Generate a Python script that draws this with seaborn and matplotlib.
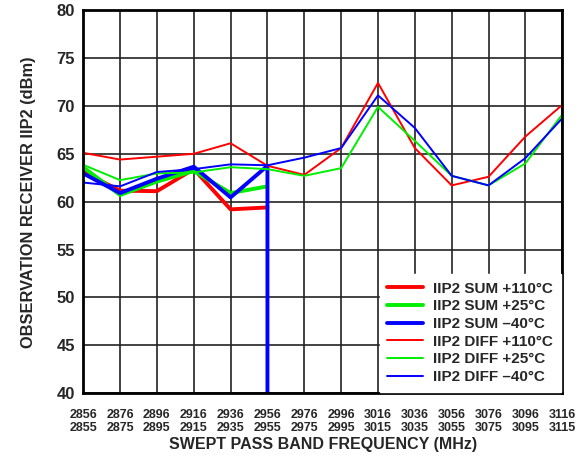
import matplotlib
matplotlib.use("Agg")
import matplotlib.pyplot as plt
import seaborn as sns

# swept pass band frequencies (upper / lower tick rows)
freq_hi = [2856, 2876, 2896, 2916, 2936, 2956, 2976, 2996, 3016, 3036, 3056, 3076, 3096, 3116]
freq_lo = [2855, 2875, 2895, 2915, 2935, 2955, 2975, 2995, 3015, 3035, 3055, 3075, 3095, 3115]

# IIP2 SUM (measured only up to 2956 MHz)
sum_110 = [63.1, 61.15, 61.1, 63.4, 59.2, 59.4]
sum_25 = [63.6, 60.7, 62.1, 63.2, 60.9, 61.6]
sum_m40 = [62.95, 60.9, 62.4, 63.65, 60.45, 63.75, 38.0]
sum_m40_freq = freq_hi[:6] + [2956]

# IIP2 DIFF
diff_110 = [65.1, 64.4, 64.7, 65.0, 66.1, 63.75, 62.8, 65.6, 72.4, 65.6, 61.7, 62.6, 66.8, 70.1]
diff_25 = [63.85, 62.25, 62.95, 63.05, 63.6, 63.4, 62.7, 63.5, 69.9, 66.35, 62.7, 61.7, 64.0, 69.1]
diff_m40 = [62.0, 61.6, 63.1, 63.4, 63.9, 63.8, 64.6, 65.6, 71.1, 67.7, 62.7, 61.7, 64.55, 68.7]

RED, GREEN, BLUE = "#ff0000", "#00ee00", "#0000ff"

sns.set_style("white")
plt.rcParams['font.family'] = ['Liberation Sans', 'DejaVu Sans']
plt.rcParams['font.weight'] = 'bold'

fig, ax = plt.subplots(figsize=(5.82, 4.61), dpi=100)
fig.subplots_adjust(left=0.143, right=0.966, top=0.978, bottom=0.147)

thick, thin = 2.8, 1.4
sns.lineplot(x=freq_hi[:6], y=sum_110, color=RED, lw=thick, ax=ax, label="IIP2 SUM +110°C")
sns.lineplot(x=freq_hi[:6], y=sum_25, color=GREEN, lw=thick, ax=ax, label="IIP2 SUM +25°C")
sns.lineplot(x=sum_m40_freq, y=sum_m40, color=BLUE, lw=thick, ax=ax, sort=False,
             estimator=None, label="IIP2 SUM \u201340°C")
sns.lineplot(x=freq_hi, y=diff_110, color=RED, lw=thin, ax=ax, label="IIP2 DIFF +110°C")
sns.lineplot(x=freq_hi, y=diff_25, color=GREEN, lw=thin, ax=ax, label="IIP2 DIFF +25°C")
sns.lineplot(x=freq_hi, y=diff_m40, color=BLUE, lw=thin, ax=ax, label="IIP2 DIFF \u201340°C")

ax.set_xlim(freq_hi[0], freq_hi[-1])
ax.set_ylim(40, 80)
ax.set_xticks(freq_hi)
ax.set_xticklabels([f"{a}\n{b}" for a, b in zip(freq_hi, freq_lo)], fontsize=9, fontweight='bold')
ax.set_yticks(range(40, 81, 5))
ax.set_yticklabels([str(v) for v in range(40, 81, 5)], fontsize=12, fontweight='bold')
ax.tick_params(axis='both', direction='in', length=4, width=1, color='black')
ax.tick_params(axis='y', pad=6)
ax.tick_params(axis='x', pad=11)

ax.grid(True, color='#222222', lw=1.2)
for s in ax.spines.values():
    s.set_color('black')
    s.set_linewidth(2)

ax.set_xlabel("SWEPT PASS BAND FREQUENCY (MHz)", fontsize=11.5, fontweight='bold', labelpad=2)
ax.set_ylabel("OBSERVATION RECEIVER IIP2 (dBm)", fontsize=11.8, fontweight='bold', labelpad=15)

leg = ax.legend(loc='lower right', fontsize=11, frameon=True, fancybox=False,
                framealpha=1, edgecolor='white', handlelength=2.35, handletextpad=0.65,
                labelspacing=0.24, borderaxespad=0.1, borderpad=0.5)
for t in leg.get_texts():
    t.set_fontweight('bold')

fig.savefig("out.png", dpi=100)
